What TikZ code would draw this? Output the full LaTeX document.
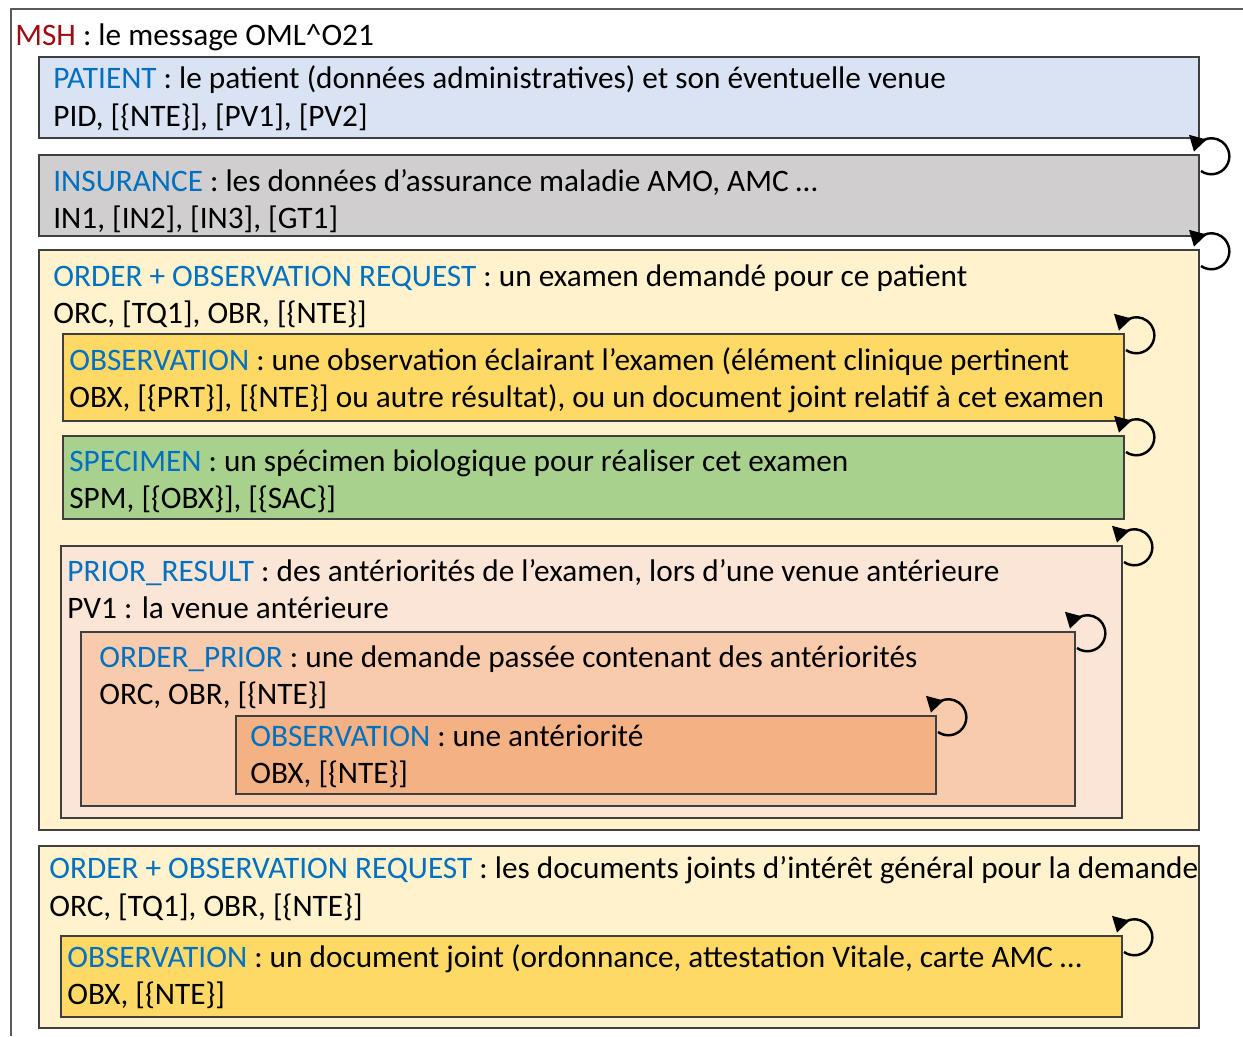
\documentclass[tikz,border=0pt]{standalone}
\usepackage{fontspec}
\setmainfont{Carlito}
\usetikzlibrary{fit,arrows.meta}

\definecolor{framegray}{HTML}{595959}
\definecolor{boxline}{HTML}{3F3F3F}
\definecolor{grpblue}{HTML}{0070C0}
\definecolor{mshred}{HTML}{9C0E14}
\definecolor{patfill}{HTML}{DAE3F3}
\definecolor{insfill}{HTML}{D0CECE}
\definecolor{reqfill}{HTML}{FFF2CC}
\definecolor{obsfill}{HTML}{FFD966}
\definecolor{spmfill}{HTML}{A9D18E}
\definecolor{priorfill}{HTML}{FBE5D6}
\definecolor{opriorfill}{HTML}{F8CBAD}
\definecolor{pobsfill}{HTML}{F4B183}

\tikzset{
  seg/.style={draw=boxline, line width=0.85pt, inner sep=0pt, outer sep=0pt},
  txt/.style={anchor=base west, inner sep=0pt, font=\fontsize{17.8}{21}\selectfont},
  loopar/.style={-{Triangle[length=8.5pt,width=10pt]}, line width=1.4pt},
}
\newcommand\grp[1]{\textcolor{grpblue}{#1}}

\begin{document}
\begin{tikzpicture}[x=0.02cm,y=-0.02cm]
\useasboundingbox (0,0) rectangle (1243,1036);
\draw[framegray,line width=1.1pt] (1243,9) -| (11,1036);
\node[txt] (msh) at (15,45) {\textcolor{mshred}{MSH} : le message OML\textasciicircum O21};

% patient and insurance
\node[seg,fill=patfill,fit={(39,57) (1199,138)}] (pat) {};
\node[txt] (pattitle) at (53,88) {\grp{PATIENT} : le patient (données administratives) et son éventuelle venue};
\node[txt] (patsegs) at (53,126) {PID, [\{NTE\}], [PV1], [PV2]};

\node[seg,fill=insfill,fit={(39,155) (1199,236)}] (ins) {};
\node[txt] (institle) at (53,191) {\grp{INSURANCE} : les données d’assurance maladie AMO, AMC …};
\node[txt] (inssegs) at (53,228) {IN1, [IN2], [IN3], [GT1]};

% first request
\node[seg,fill=reqfill,fit={(39,250) (1199,830)}] (req) {};
\node[txt] (reqtitle) at (53,286) {\grp{ORDER + OBSERVATION REQUEST} : un examen demandé pour ce patient};
\node[txt] (reqsegs) at (53,323) {ORC, [TQ1], OBR, [\{NTE\}]};

\node[seg,fill=obsfill,fit={(63,334) (1124,421)}] (obs) {};
\node[txt] (obstitle) at (69,370) {\grp{OBSERVATION} : une observation éclairant l’examen (élément clinique pertinent};
\node[txt] (obssegs) at (69,407) {OBX, [\{PRT\}], [\{NTE\}] ou autre résultat), ou un document joint relatif à cet examen};

\node[seg,fill=spmfill,fit={(63,436) (1124,519)}] (spm) {};
\node[txt] (spmtitle) at (69,471) {\grp{SPECIMEN} : un spécimen biologique pour réaliser cet examen};
\node[txt] (spmsegs) at (69,508) {SPM, [\{OBX\}], [\{SAC\}]};

\node[seg,fill=priorfill,fit={(61,546) (1122,818)}] (prior) {};
\node[txt] (priortitle) at (67,581) {\grp{PRIOR\_RESULT} : des antériorités de l’examen, lors d’une venue antérieure};
\node[txt] (priorsegs) at (67,618) {PV1 : la venue antérieure};

\node[seg,fill=opriorfill,fit={(81,632) (1075,806)}] (oprior) {};
\node[txt] (opriortitle) at (99,667) {\grp{ORDER\_PRIOR} : une demande passée contenant des antériorités};
\node[txt] (opriorsegs) at (99,704) {ORC, OBR, [\{NTE\}]};

\node[seg,fill=pobsfill,fit={(236,716) (936,794)}] (pobs) {};
\node[txt] (pobstitle) at (250,746) {\grp{OBSERVATION} : une antériorité};
\node[txt] (pobssegs) at (250,783) {OBX, [\{NTE\}]};

% second request
\node[seg,fill=reqfill,fit={(39,846) (1199,1028)}] (doc) {};
\node[txt] (doctitle) at (49,878) {\grp{ORDER + OBSERVATION REQUEST} : les documents joints d’intérêt général pour la demande};
\node[txt] (docsegs) at (49,916) {ORC, [TQ1], OBR, [\{NTE\}]};

\node[seg,fill=obsfill,fit={(61,936) (1122,1017)}] (dobs) {};
\node[txt] (dobstitle) at (67,967) {\grp{OBSERVATION} : un document joint (ordonnance, attestation Vitale, carte AMC …};
\node[txt] (dobssegs) at (67,1004) {OBX, [\{NTE\}]};

% repetition loops
\foreach \b in {ins,req,obs,spm,prior,oprior,pobs,dobs}
  \draw[loopar] ([shift={(2,16)}]\b.north east) arc[start angle=125,end angle=-165,radius=18];
\end{tikzpicture}
\end{document}
